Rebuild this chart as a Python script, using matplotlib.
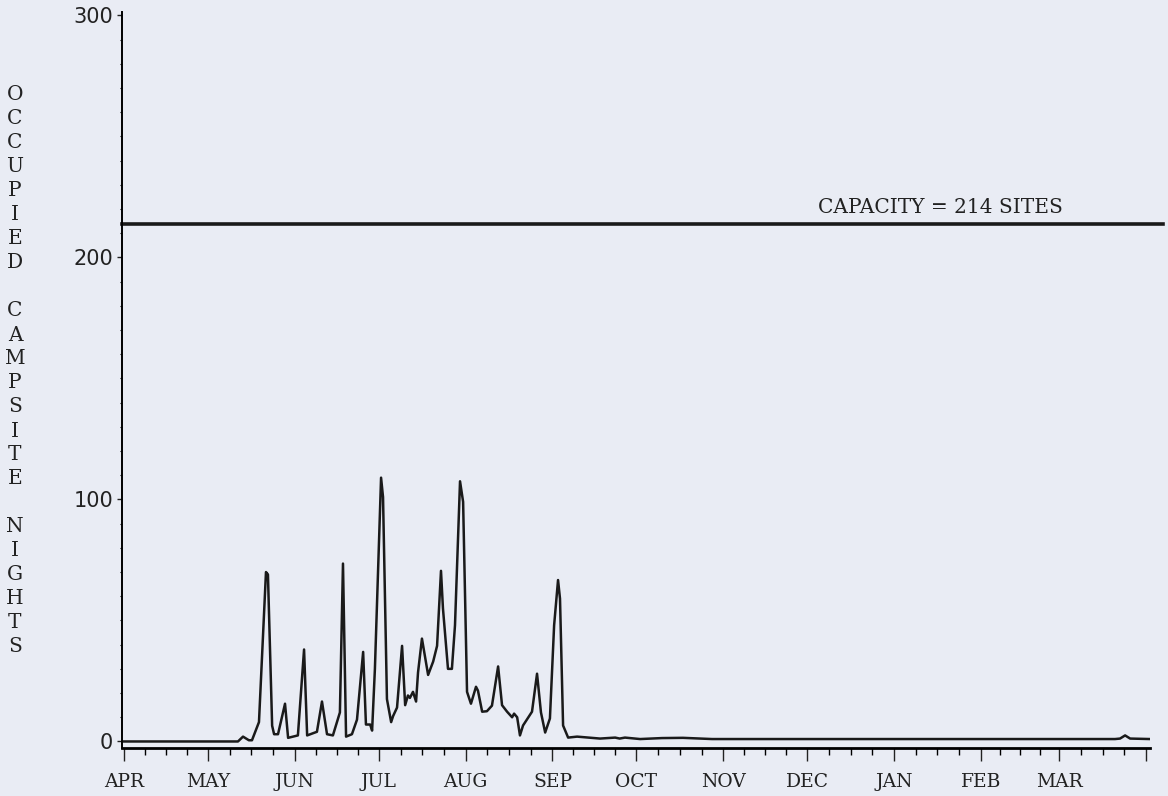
import matplotlib.pyplot as plt
import numpy as np

# days counted from April 1, values = occupied campsite nights
day = [0, 40.7, 42.5, 44.6, 45.7, 48.2, 50.7, 51.4, 52.9, 53.6, 55, 57.5, 58.6,
       62.1, 64.3, 65.4, 68.9, 70.7, 72.5, 74.6, 77.1, 78.2, 79.3, 81.4, 83.2,
       85.4, 86.4, 87.9, 88.6, 89.6, 91.8, 92.5, 93.9, 95.4, 96.1, 97.5, 99.3,
       100.4, 101.4, 102.1, 103.2, 104.3, 105, 106.4, 108.6, 110.4, 111.8,
       113.2, 113.9, 115.7, 117.1, 118.2, 120, 121.1, 122.5, 123.9, 125.7,
       126.4, 127.9, 129.6, 131.4, 133.6, 135, 136.8, 138.6, 139.3, 140.4,
       141.4, 142.5, 145.7, 147.5, 148.9, 150.4, 152.1, 153.6, 155, 155.7,
       156.8, 158.6, 161.8, 170, 175.4, 177, 178.9, 184.3, 192.1, 199.6,
       210, 260, 320, 353.9, 355.7, 357.5, 359.3, 366.4]
nights = [0, 0, 2, 0.5, 0.5, 8, 70, 69, 6.5, 3, 3, 15.6, 1.5,
          2.5, 38, 2.5, 4, 16.5, 3, 2.5, 12, 73.5, 2, 3, 9,
          37, 7, 7, 4.5, 30, 109, 101, 17.5, 8, 10.5, 14, 39.5,
          15, 19, 18, 20.5, 16.5, 28.5, 42.5, 27.5, 33, 39.5,
          70.5, 55, 30, 30, 48, 107.5, 99, 20.5, 15.6, 22.6,
          21, 12.3, 12.5, 14.8, 31, 15, 12.3, 10, 11.5, 10,
          2.5, 6.6, 12.3, 28, 12, 3.7, 9.5, 48, 66.7, 59,
          6.6, 1.6, 2, 1.2, 1.6, 1.2, 1.6, 1, 1.4, 1.5,
          1, 1, 1, 1, 1.2, 2.5, 1.2, 1]

capacity = 214
months = ['APR', 'MAY', 'JUN', 'JUL', 'AUG', 'SEP', 'OCT', 'NOV', 'DEC', 'JAN', 'FEB', 'MAR']
month_start = [0, 30, 61, 91, 122, 153, 183, 214, 244, 275, 306, 334, 365]
ylabel = 'OCCUPIED CAMPSITE NIGHTS'

bg = '#e9ecf4'
fig = plt.figure(figsize=(11.68, 7.96), dpi=100, facecolor=bg)
ax = fig.add_axes([0.1042, 0.0603, 0.8804, 0.9246], facecolor=bg)

ax.plot(day, nights, color='#1a1a1a', lw=1.8, solid_joinstyle='round')
ax.axhline(capacity, xmin=0, xmax=1.0126, color='#1a1a1a', lw=2.6, clip_on=False)
ax.text(335.4, 218.4, 'CAPACITY = %d SITES' % capacity, ha='right', va='baseline',
        family='DejaVu Serif', fontsize=14.5, color='#222222')

ax.set_xlim(-0.82, 366.4)
ax.set_ylim(-2.7, 301.4)

for s in ['top', 'right']:
    ax.spines[s].set_visible(False)
ax.spines['left'].set_linewidth(1.4)
ax.spines['bottom'].set_linewidth(2.0)

ax.set_xticks(month_start)
ax.set_xticklabels(months + [''], family='DejaVu Serif', fontsize=13.5)
minor = []
for a, b in zip(month_start[:-1], month_start[1:]):
    minor += [a + (b - a) * k / 4 for k in (1, 2, 3)]
ax.set_xticks(minor, minor=True)
ax.tick_params(axis='x', which='major', direction='out', length=9.5, width=1.0, pad=8.5, colors='#222222')
ax.tick_params(axis='x', which='minor', direction='out', length=5, width=1.0)

ax.set_yticks([0, 100, 200, 300])
ax.set_yticklabels(['0', '100', '200', '300'], fontsize=15)
ax.set_yticks(np.arange(0, 301, 10), minor=True)
ax.tick_params(axis='y', which='major', direction='out', length=3.6, width=1.0, pad=2.5, colors='#222222')
ax.tick_params(axis='y', which='minor', direction='out', length=1.8, width=0.8)

# stacked vertical label
for i, ch in enumerate(ylabel):
    if ch == ' ':
        continue
    fig.text(15 / 1168, 1 - (95 + 24 * i) / 796, ch, ha='center', va='center',
             family='DejaVu Serif', fontsize=14.5, color='#222222')

fig.savefig('out.png', dpi=100, facecolor=bg)
